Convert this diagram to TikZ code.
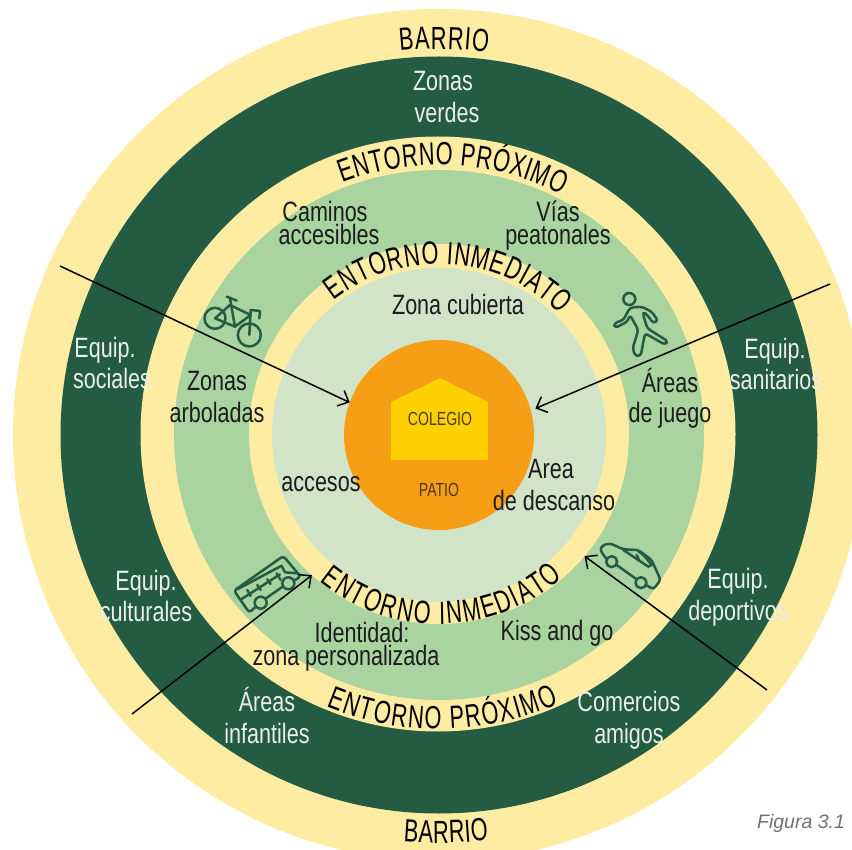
\documentclass[tikz,border=0pt]{standalone}
\usepackage{fontspec}
\usetikzlibrary{arrows.meta,decorations.text}
\setmainfont{Liberation Sans}
\newfontfamily\narrowf[FakeStretch=.74]{Liberation Sans}
\newfontfamily\curvef[FakeStretch=.68]{Liberation Sans}
\newfontfamily\labelf[FakeStretch=.77]{Liberation Sans}
\newcommand\curvefont{\curvef\fontsize{32}{32}\selectfont}
\newcommand\curvetxt[4]{\path[decorate,decoration={text along path,text={|\curvefont|#4},text align={fit to path}}] (#2:#1pt) arc[start angle=#2,end angle=#3,radius=#1pt];}
\definecolor{cyellow}{HTML}{FFECA3}
\definecolor{cdark}{HTML}{245B43}
\definecolor{cmid}{HTML}{A9D39F}
\definecolor{cpale}{HTML}{D1E4C7}
\definecolor{corange}{HTML}{F59E16}
\definecolor{cgold}{HTML}{FFD000}
\definecolor{cink}{HTML}{1C1C1C}
\definecolor{cwhite}{HTML}{E9EFEA}
\definecolor{cbrown}{HTML}{4E3A10}
\definecolor{cgrey}{HTML}{707070}
\tikzset{
  ring/.style={circle,inner sep=0pt,outer sep=0pt,minimum size=#1*2pt},
  lab/.style={font=\labelf\fontsize{28}{28}\selectfont,inner sep=0pt,text=cink,anchor=base},
  wlab/.style={lab,text=cwhite},
  slab/.style={font=\narrowf\fontsize{19}{19}\selectfont,inner sep=0pt,text=cbrown,anchor=base},
  pointer/.style={draw=black,line width=1.5pt,-{Straight Barb[length=9pt,width=17pt,line width=1.5pt]}},
  icon/.style={draw=cdark,line width=2.5pt,line cap=round,line join=round},
}
\begin{document}
\begin{tikzpicture}[x=1pt,y=1pt]
\useasboundingbox (0,0) rectangle (852,-850);
\clip (0,0) rectangle (852,-850);
\node[ring=426,fill=cyellow] (outer) at (439,-435) {};
\node[ring=378.5,fill=cdark] (barrio) at (439,-435) {};
\node[ring=297.5,fill=cyellow] (proxband) at (438,-434) {};
\node[ring=265,fill=cmid] (prox) at (439,-435) {};
\node[ring=190,fill=cyellow] (inmband) at (439,-434) {};
\node[ring=167,fill=cpale] (inm) at (439,-435) {};
\node[ring=95,fill=corange] (patio) at (439,-435) {};
\fill[cgold] (391,-460) -- (391,-402) -- (440,-378) -- (488,-402) -- (488,-460) -- cycle;
% curved titles
\begin{scope}[shift={(439,-435)}]
\curvetxt{386}{95.8}{82.7}{BARRIO}
\curvetxt{270}{111}{63}{ENTORNO PRÓXIMO}
\curvetxt{171}{128}{45}{ENTORNO INMEDIATO}
\curvetxt{189}{231}{311}{ENTORNO INMEDIATO}
\curvetxt{294}{247.5}{294}{ENTORNO PRÓXIMO}
\curvetxt{408}{265}{277}{BARRIO}
\end{scope}
% labels
\node[wlab] (t1) at (443,-91) {Zonas};
\node[wlab] (t2) at (447,-123) {verdes};
\node[lab] (t3) at (325,-222) {Caminos};
\node[lab] (t4) at (329,-245) {accesibles};
\node[lab] (t5) at (558,-222) {Vías};
\node[lab] (t6) at (558,-245) {peatonales};
\node[lab] (t7) at (458,-315) {Zona cubierta};
\node[wlab] (t8) at (105,-358) {Equip.};
\node[wlab] (t9) at (112,-389) {sociales};
\node[lab] (t10) at (217,-391) {Zonas};
\node[lab] (t11) at (217,-423) {arboladas};
\node[lab] (t12) at (321,-491) {accesos};
\node[lab] (t13) at (670,-392) {Áreas};
\node[lab] (t14) at (670,-423) {de juego};
\node[lab] (t15) at (551,-478) {Area};
\node[lab] (t16) at (554,-510) {de descanso};
\node[wlab] (t17) at (775,-359) {Equip.};
\node[wlab] (t18) at (776,-390) {sanitarios};
\node[wlab] (t19) at (146,-590) {Equip.};
\node[wlab] (t20) at (146,-621) {culturales};
\node[wlab] (t21) at (738,-588) {Equip.};
\node[wlab] (t22) at (738,-620) {deportivos};
\node[lab] (t23) at (362,-642) {Identidad:};
\node[lab] (t24) at (346,-665) {zona personalizada};
\node[lab] (t25) at (557,-640) {Kiss and go};
\node[wlab] (t26) at (267,-711) {Áreas};
\node[wlab] (t27) at (267,-743) {infantiles};
\node[wlab] (t28) at (629,-711) {Comercios};
\node[wlab] (t29) at (629,-743) {amigos};
\node[slab] (colegio) at (440,-425) {COLEGIO};
\node[slab] (patiotxt) at (439,-496) {PATIO};
\node[font=\itshape\fontsize{19.5}{19.5}\selectfont,text=cgrey,inner sep=0pt,anchor=base] (fig) at (801,-828) {Figura 3.1};
% bicycle
\begin{scope}[shift={(180,-230)},x=.3333pt,y=-.3333pt]
\draw[icon] (105,265) circle[radius=10.5pt];
\draw[icon] (208,315) circle[radius=11.5pt];
\draw[icon] (105,265) -- (165,290) -- (212,255) -- (150,225) -- cycle;
\draw[icon] (165,290) -- (150,205);
\draw[icon] (140,200) -- (170,212);
\draw[icon] (208,315) -- (212,240) -- (240,243) -- (238,265);
\end{scope}
% walker
\begin{scope}[shift={(570,-270)},x=.3333pt,y=-.3333pt]
\draw[icon] (178,87) circle[radius=6pt];
\draw[icon,rounded corners=3pt] (132,160) -- (160,150) -- (180,113) -- (215,110) -- (245,125) -- (264,152) -- (250,160) -- (228,130) -- (218,130) -- (232,175) -- (294,214) -- (285,224) -- (225,190) -- (212,258) -- (196,258) -- (188,235) -- (205,180) -- (180,135) -- (172,155) -- (135,174) -- cycle;
\end{scope}
% bus
\begin{scope}[shift={(210,-530)},x=.3333pt,y=-.3333pt]
\draw[icon,rounded corners=3pt] (135,232) -- (118,248) -- (72,182) -- (220,78) -- (272,140) -- (252,152);
\draw[icon] (168,205) -- (218,170);
\draw[icon] (152,218) circle[radius=6pt];
\draw[icon] (235,160) circle[radius=6pt];
\draw[icon] (82,178) -- (215,107);
\draw[icon] (95,207) -- (210,133);
\draw[icon] (112,180) -- (122,198);
\draw[icon] (142,165) -- (152,180);
\draw[icon] (172,148) -- (182,162);
\draw[icon] (200,130) -- (212,150);
\draw[icon] (215,108) -- (225,127) -- (262,130);
\end{scope}
% car
\begin{scope}[shift={(570,-520)},x=.3333pt,y=-.3333pt]
\draw[icon,rounded corners=3pt] (110,118) -- (90,90) -- (97,76) -- (120,70) -- (160,88) -- (205,90) -- (245,120) -- (265,165) -- (272,180) -- (250,208) -- (228,195);
\draw[icon] (125,125) circle[radius=5.5pt];
\draw[icon] (213,188) circle[radius=5.5pt];
\draw[icon] (140,135) -- (200,178);
\draw[icon] (160,90) -- (235,140) -- (245,135) -- (225,110) -- (205,93);
\draw[icon] (200,105) -- (208,122);
\end{scope}
% pointers
\coordinate (p1) at (60,-266);
\coordinate (p2) at (830,-284);
\coordinate (p3) at (132,-714);
\coordinate (p4) at (767,-690);
\draw[pointer] (p1) -- (patio.160.6);
\draw[pointer,shorten >=5pt] (p2) -- (patio.15.6);
\draw[pointer] (p3) -- (inmband.228.8);
\draw[pointer] (p4) -- (inmband.320.5);
\end{tikzpicture}
\end{document}
